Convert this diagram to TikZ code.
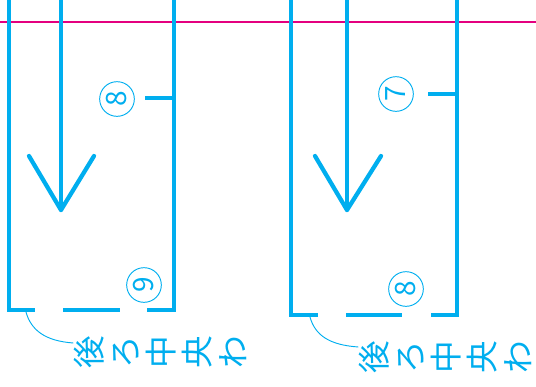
\documentclass[tikz,border=0pt]{standalone}
\usepackage{fontspec}
\newfontfamily\jpfont{Noto Sans CJK JP}
\definecolor{cyanink}{RGB}{0,174,239}
\definecolor{magink}{RGB}{228,0,127}
\tikzset{
  wall/.style={draw=cyanink, line width=3.4pt, line join=miter},
  flow/.style={draw=cyanink, line width=3.2pt, line cap=round, line join=round},
  leader/.style={draw=cyanink, line width=0.7pt},
  numcirc/.style={circle, draw=cyanink, line width=0.7pt, text=cyanink, minimum size=26pt,
    inner sep=0pt, rotate=90, font=\jpfont\fontsize{21}{21}\selectfont},
  vlabel/.style={rotate=90, align=center, text=cyanink, inner sep=0pt,
    font=\jpfont\fontsize{24.5}{27}\selectfont}
}
\begin{document}
\begin{tikzpicture}[x=0.75pt,y=-0.75pt]
\useasboundingbox (0,0) rectangle (536,386);
% guide line
\draw[magink, line width=1.8pt] (0,22) -- (536,22);
% left frame
\draw[wall] (9,-5) -- (9,310) -- (35,310);
\draw[wall] (63,310) -- (120,310);
\draw[wall] (147,310) -- (174,310) -- (174,-5);
\draw[wall] (145,98) -- (174,98);
\draw[flow] (61,-5) -- (61,210);
\draw[flow] (29,156) -- (61,210) -- (94,156);
\node[numcirc] (n8a) at (117,99) {8};
\node[numcirc] (n9a) at (144,285) {9};
\node[vlabel] (labA) at (160,352) {後\\ろ\\中\\央\\わ};
\coordinate (ltA) at (26,312);
\draw[leader] (ltA) .. controls (31,330) and (45,341) .. (labA.north west |- 0,343);
% right frame
\draw[wall] (291,-5) -- (291,315) -- (318,315);
\draw[wall] (346,315) -- (402,315);
\draw[wall] (431,315) -- (457,315) -- (457,-5);
\draw[wall] (428,94) -- (457,94);
\draw[flow] (347,-5) -- (347,210);
\draw[flow] (315,156) -- (347,210) -- (381,156);
\node[numcirc] (n7b) at (396,94) {7};
\node[numcirc] (n8b) at (406,289) {8};
\node[vlabel] (labB) at (445,357) {後\\ろ\\中\\央\\わ};
\coordinate (ltB) at (310,317);
\draw[leader] (ltB) .. controls (315,335) and (329,345) .. (labB.north west |- 0,347);
\end{tikzpicture}
\end{document}
